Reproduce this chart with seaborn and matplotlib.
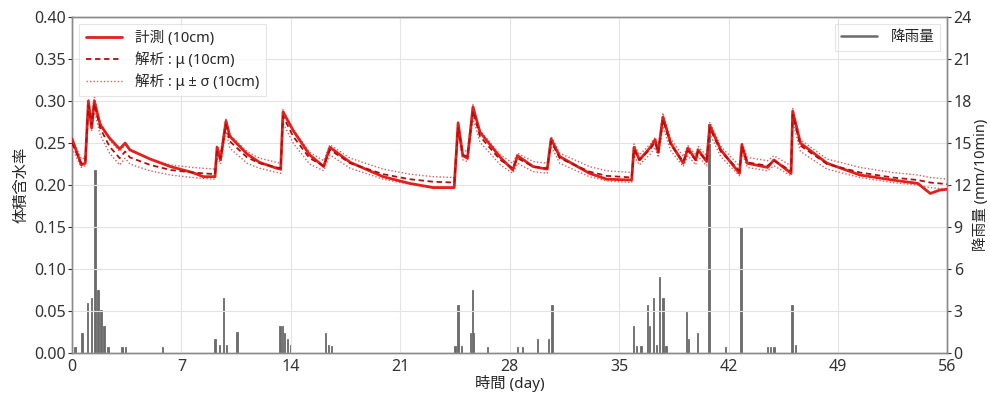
import numpy as np
import pandas as pd
import seaborn as sns
import matplotlib
matplotlib.use("Agg")
import matplotlib.pyplot as plt
from matplotlib.lines import Line2D

# --- soil moisture at 10 cm depth (volumetric water content) ---
days = [0.0, 0.6, 0.85, 1.05, 1.26, 1.43, 1.8, 2.4, 3.05, 3.4, 3.7, 5.0, 6.3, 7.7, 8.4,
        9.15, 9.28, 9.5, 9.85, 10.1, 11.2, 12.0, 13.1, 13.35, 13.5, 14.15, 15.2, 16.1,
        16.5, 17.8, 19.9, 21.6, 23.1, 24.45, 24.7, 25.0, 25.3, 25.65, 26.1, 27.4, 28.2,
        28.5, 29.5, 30.4, 30.65, 31.2, 33.1, 34.2, 35.8, 35.95, 36.3, 37.0, 37.3, 37.5,
        37.8, 38.3, 39.1, 39.4, 39.9, 40.05, 40.6, 40.8, 41.5, 42.7, 42.85, 43.2, 44.5,
        44.9, 46.0, 46.1, 46.6, 48.3, 50.4, 52.5, 54.1, 54.9, 55.5, 56.0]

measured = [0.255, 0.224, 0.226, 0.300, 0.268, 0.300, 0.272, 0.256, 0.243, 0.250, 0.242,
            0.231, 0.222, 0.215, 0.210, 0.210, 0.245, 0.230, 0.276, 0.258, 0.237, 0.227,
            0.220, 0.219, 0.287, 0.265, 0.236, 0.222, 0.245, 0.227, 0.210, 0.202, 0.197,
            0.197, 0.274, 0.235, 0.232, 0.293, 0.263, 0.233, 0.218, 0.235, 0.222, 0.219,
            0.255, 0.234, 0.214, 0.207, 0.206, 0.245, 0.230, 0.245, 0.254, 0.239, 0.281,
            0.250, 0.226, 0.244, 0.230, 0.242, 0.228, 0.271, 0.242, 0.214, 0.248, 0.226,
            0.221, 0.230, 0.214, 0.288, 0.250, 0.226, 0.212, 0.206, 0.202, 0.190, 0.194,
            0.195]

mu = [0.250, 0.226, 0.228, 0.295, 0.272, 0.297, 0.268, 0.246, 0.232, 0.240, 0.233,
      0.224, 0.218, 0.215, 0.214, 0.213, 0.240, 0.232, 0.272, 0.252, 0.233, 0.226,
      0.221, 0.220, 0.282, 0.258, 0.232, 0.223, 0.242, 0.226, 0.213, 0.207, 0.204,
      0.203, 0.268, 0.236, 0.234, 0.288, 0.258, 0.230, 0.220, 0.232, 0.222, 0.220,
      0.252, 0.232, 0.216, 0.211, 0.209, 0.242, 0.230, 0.243, 0.251, 0.239, 0.278,
      0.248, 0.228, 0.241, 0.230, 0.240, 0.229, 0.268, 0.240, 0.217, 0.245, 0.227,
      0.223, 0.229, 0.217, 0.284, 0.247, 0.225, 0.215, 0.209, 0.206, 0.203, 0.202,
      0.201]

sigma = [0.006, 0.005, 0.005, 0.008, 0.007, 0.008, 0.008, 0.008, 0.008, 0.008, 0.008,
         0.007, 0.006, 0.006, 0.006, 0.006, 0.007, 0.007, 0.008, 0.008, 0.007, 0.006,
         0.006, 0.006, 0.008, 0.008, 0.007, 0.006, 0.006, 0.006, 0.006, 0.006, 0.006,
         0.006, 0.007, 0.006, 0.006, 0.008, 0.007, 0.006, 0.006, 0.006, 0.006, 0.006,
         0.006, 0.006, 0.006, 0.006, 0.006, 0.007, 0.006, 0.006, 0.006, 0.006, 0.008,
         0.007, 0.006, 0.006, 0.006, 0.006, 0.006, 0.007, 0.006, 0.006, 0.006, 0.006,
         0.006, 0.006, 0.006, 0.008, 0.007, 0.006, 0.006, 0.006, 0.006, 0.006, 0.006,
         0.006]

# --- rainfall (mm per 10 min) ---
rain_day = [0.2, 0.64, 1.0, 1.26, 1.47, 1.66, 1.86, 2.05, 2.3, 3.2, 3.4, 5.8, 9.15, 9.45,
            9.7, 9.9, 10.55, 13.3, 13.45, 13.6, 13.8, 14.0, 16.2, 16.4, 16.6, 24.5, 24.7,
            24.9, 25.5, 25.6, 25.7, 26.6, 28.5, 28.8, 29.8, 30.5, 30.7, 35.9, 36.1, 36.4,
            36.8, 36.95, 37.2, 37.4, 37.6, 37.8, 38.0, 39.3, 39.45, 40.0, 40.75, 41.8,
            42.8, 44.5, 44.7, 44.9, 46.05, 46.3]
rain_mm = [0.4, 1.4, 3.6, 3.9, 13.1, 4.5, 3.1, 1.9, 0.4, 0.4, 0.4, 0.4, 1.0, 0.6, 3.9,
           0.6, 1.5, 1.9, 1.9, 1.4, 1.0, 0.6, 1.4, 0.6, 0.5, 0.5, 3.4, 0.5, 1.4, 4.5, 1.4,
           0.4, 0.4, 0.4, 1.0, 1.0, 3.4, 1.9, 0.5, 0.5, 3.4, 1.9, 3.9, 0.6, 5.4, 3.9, 0.5,
           2.9, 1.0, 1.4, 16.4, 0.4, 9.0, 0.4, 0.4, 0.4, 3.4, 0.6]

x_ticks = [0, 7, 14, 21, 28, 35, 42, 49, 56]
left_ticks = [0.00, 0.05, 0.10, 0.15, 0.20, 0.25, 0.30, 0.35, 0.40]
right_ticks = [0, 3, 6, 9, 12, 15, 18, 21, 24]

sns.set_theme(style="whitegrid")
plt.rcParams["font.family"] = ["Noto Sans", "Noto Sans CJK JP", "DejaVu Sans"]
plt.rcParams["axes.unicode_minus"] = False

df = pd.DataFrame({"day": days, "measured": measured, "mu": mu, "sigma": sigma})
df["upper"] = df["mu"] + df["sigma"]
df["lower"] = df["mu"] - df["sigma"]

fig = plt.figure(figsize=(9.9, 3.99), dpi=100)
ax = fig.add_axes([0.0727, 0.1153, 0.8843, 0.8417])
ax2 = ax.twinx()

# rainfall bars on the secondary axis
rain_color = "#6b6b6b"
ax2.bar(rain_day, rain_mm, width=0.08, color=rain_color, edgecolor=rain_color,
        linewidth=0.6, zorder=1)
ax2.set_ylim(0, 24)
ax2.set_yticks(right_ticks)
ax2.grid(False)

# moisture curves on the primary axis, drawn above the bars
ax.set_zorder(ax2.get_zorder() + 1)
ax.patch.set_visible(False)
sns.lineplot(data=df, x="day", y="upper", ax=ax, color="#e45a5a", lw=1.0,
             linestyle=(0, (1, 1.5)), zorder=3)
sns.lineplot(data=df, x="day", y="lower", ax=ax, color="#e45a5a", lw=1.0,
             linestyle=(0, (1, 1.5)), zorder=3)
sns.lineplot(data=df, x="day", y="measured", ax=ax, color="#e3201b", lw=2.0, zorder=4)
sns.lineplot(data=df, x="day", y="mu", ax=ax, color="#b50d0d", lw=1.3,
             linestyle=(0, (3, 2)), zorder=5)

ax.set_xlim(0, 56)
ax.set_ylim(0, 0.40)
ax.set_xticks(x_ticks)
ax.set_yticks(left_ticks)
ax.set_yticklabels([f"{v:.2f}" for v in left_ticks])
ax.grid(True, color="#e3e3e3", lw=0.8)
ax.set_axisbelow(True)

ax.set_xlabel("時間 (day)", fontsize=11, labelpad=0)
ax.set_ylabel("体積含水率", fontsize=11, labelpad=3)
ax2.set_ylabel("降雨量 (mm/10min)", fontsize=10.5, labelpad=1)

for a in (ax, ax2):
    a.tick_params(labelsize=11.5, length=3, width=0.8, colors="#333333", pad=1.5)
    for s in a.spines.values():
        s.set_color("#8a8a8a")
        s.set_linewidth(1.0)

left_handles = [
    Line2D([], [], color="#e3201b", lw=2.0),
    Line2D([], [], color="#b50d0d", lw=1.3, linestyle=(0, (3, 2))),
    Line2D([], [], color="#e45a5a", lw=1.0, linestyle=(0, (1, 1.5))),
]
leg1 = ax.legend(left_handles, ["計測 (10cm)", "解析 : μ (10cm)", "解析 : μ ± σ (10cm)"],
                 loc="upper left", fontsize=10.5, frameon=True, framealpha=0.75,
                 edgecolor="#dddddd", fancybox=False, borderpad=0.45, handlelength=2.5,
                 labelspacing=0.35, handletextpad=0.9)
leg1.get_frame().set_linewidth(0.8)

leg2 = ax2.legend([Line2D([], [], color=rain_color, lw=1.8)], ["降雨量"],
                  loc="upper right", fontsize=10.5, frameon=True, framealpha=0.75,
                  edgecolor="#dddddd", fancybox=False, handlelength=2.5,
                  handletextpad=0.9)
leg2.get_frame().set_linewidth(0.8)

fig.savefig("out.png", dpi=100)
